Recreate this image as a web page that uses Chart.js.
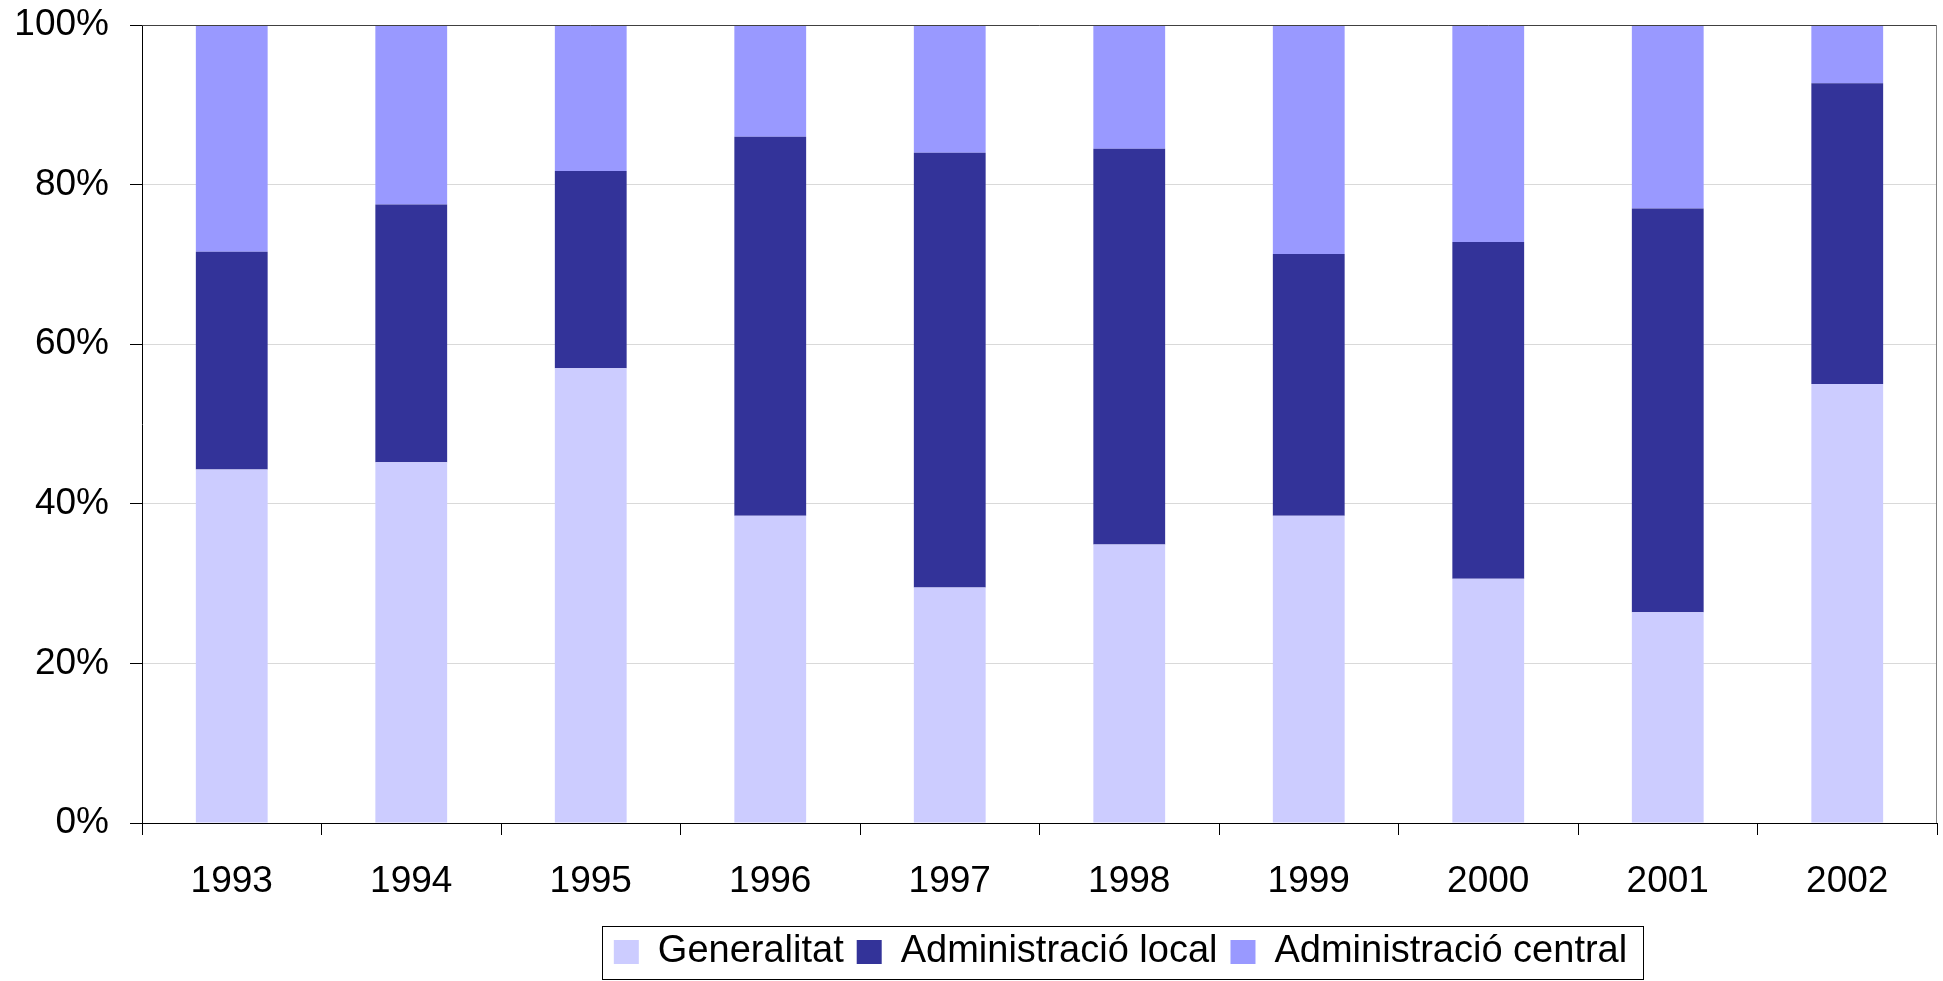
<!DOCTYPE html>
<html lang="ca">
<head>
<meta charset="UTF-8">
<title>Distribució per administració</title>
<script src="https://cdn.jsdelivr.net/npm/chart.js"></script>
<style>
    html, body { margin: 0; padding: 0; background: #fff; }
    #wrap { width: 1943px; height: 981px; position: relative; }
</style>
</head>
<body>
<div id="wrap"><canvas id="chart"></canvas></div>
<script>
// data (percent of total)
const years = ['1993', '1994', '1995', '1996', '1997', '1998', '1999', '2000', '2001', '2002'];
const generalitat = [44.3, 45.2, 57.0, 38.5, 29.5, 34.9, 38.5, 30.6, 26.4, 55.0];
const adminLocal = [27.3, 32.3, 24.7, 47.5, 54.5, 49.6, 32.8, 42.2, 50.6, 37.7];
const adminCentral = [28.4, 22.5, 18.3, 14.0, 16.0, 15.5, 28.7, 27.2, 23.0, 7.3];
const yTicks = [0, 20, 40, 60, 80, 100];

const font = 'Liberation Sans, Arial, sans-serif';
const legendShift = 152;

// frame the plot area (top + right edges) and box the legend
const frame = {
    id: 'frame',
    afterLayout(chart) {
        const l = chart.legend;
        l.left += legendShift;
        l.right += legendShift;
    },
    afterDatasetsDraw(chart) {
        const {ctx, chartArea: a} = chart;
        ctx.save();
        ctx.lineWidth = 1;
        ctx.strokeStyle = '#404040';
        ctx.beginPath();
        ctx.moveTo(a.left, a.top + 0.5);
        ctx.lineTo(a.right, a.top + 0.5);
        ctx.stroke();
        ctx.strokeStyle = '#808080';
        ctx.beginPath();
        ctx.moveTo(a.right - 0.5, a.top);
        ctx.lineTo(a.right - 0.5, a.bottom);
        ctx.stroke();
        ctx.restore();
    },
    afterDraw(chart) {
        const boxes = chart.legend.legendHitBoxes;
        if (!boxes || !boxes.length) return;
        const first = boxes[0], last = boxes[boxes.length - 1];
        const x0 = Math.round(first.left - 12) + 0.5;
        const x1 = Math.round(last.left + last.width + 16) + 0.5;
        const y0 = Math.round(first.top + first.height / 2 - 26) + 0.5;
        const y1 = chart.height - 1.5;
        const {ctx} = chart;
        ctx.save();
        ctx.strokeStyle = '#000';
        ctx.lineWidth = 1;
        ctx.strokeRect(x0, y0, x1 - x0, y1 - y0);
        ctx.restore();
    }
};

new Chart(document.getElementById('chart'), {
    type: 'bar',
    data: {
        labels: years,
        datasets: [
            { label: 'Generalitat', data: generalitat, backgroundColor: '#CCCCFF' },
            { label: 'Administració local', data: adminLocal, backgroundColor: '#333399' },
            { label: 'Administració central', data: adminCentral, backgroundColor: '#9999FF' }
        ]
    },
    options: {
        responsive: true,
        maintainAspectRatio: false,
        animation: false,
        barPercentage: 0.4,
        categoryPercentage: 1,
        layout: { padding: { top: 25, right: 6, bottom: 0, left: 0 } },
        plugins: {
            tooltip: { enabled: false },
            legend: {
                position: 'bottom',
                labels: {
                    color: '#000',
                    font: { family: font, size: 38 },
                    boxWidth: 25,
                    boxHeight: 24,
                    padding: 13
                }
            }
        },
        scales: {
            x: {
                stacked: true,
                grid: { offset: true, drawOnChartArea: false, drawTicks: true, tickLength: 12, tickColor: '#000' },
                border: { color: '#000', width: 1 },
                ticks: { color: '#000', font: { family: font, size: 37 }, padding: 25, maxRotation: 0 },
                afterFit(scale) {
                    scale.height = 97;
                    scale.paddingLeft = 0;
                    scale.paddingRight = 0;
                }
            },
            y: {
                stacked: true,
                min: 0,
                max: 100,
                afterBuildTicks(scale) { scale.ticks = yTicks.map(v => ({ value: v })); },
                grid: { color: '#d9d9d9', tickLength: 12, tickColor: '#000' },
                border: { color: '#000', width: 1 },
                ticks: {
                    color: '#000',
                    font: { family: font, size: 37 },
                    padding: 21,
                    callback: v => v + '%'
                },
                afterFit(scale) {
                    scale.width = 142;
                    scale.paddingTop = 0;
                    scale.paddingBottom = 0;
                }
            }
        }
    },
    plugins: [frame]
});
</script>
</body>
</html>
